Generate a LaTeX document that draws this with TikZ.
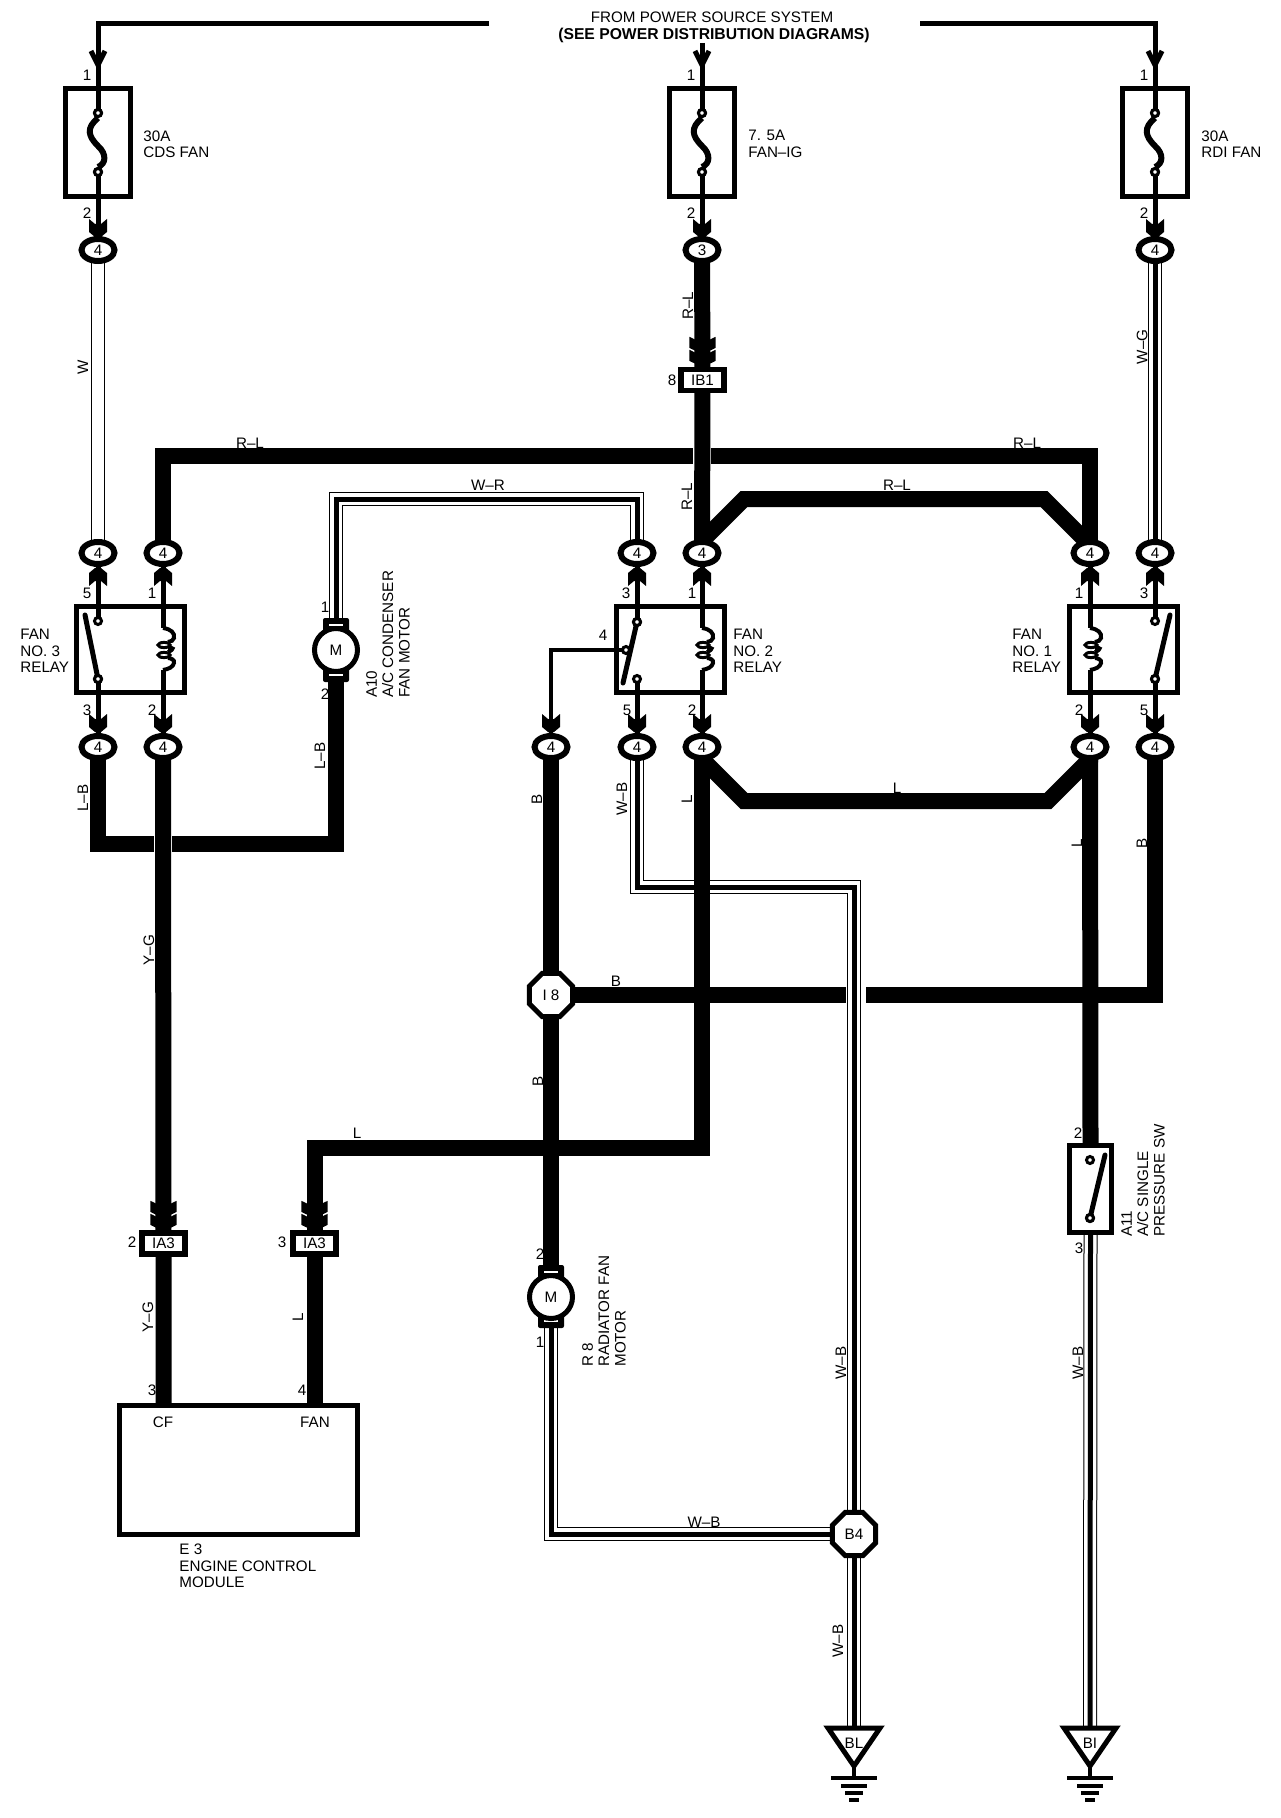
\documentclass[tikz,border=0pt]{standalone}
\usepackage{fontspec}
\setmainfont{Liberation Sans}
\usetikzlibrary{shapes.geometric}
\pgfdeclarelayer{background}
\pgfsetlayers{background,main}
\newcount\labn
\newcommand\lab[3][]{\global\advance\labn by 1 \node[lbl,#1] (lab\the\labn) at (#2) {#3};}
\tikzset{
  lbl/.style={inner sep=0pt,align=left,font=\fontsize{7.6}{8.2}\selectfont},
  boxn/.style={draw,line width=2.5pt,rectangle,inner sep=0pt},
  conn/.style={draw,fill=white,ellipse,line width=3pt,minimum width=16.5pt,minimum height=11pt,inner sep=0pt,font=\fontsize{7.6}{8}\selectfont},
  tag/.style={draw,fill=white,rectangle,line width=2.75pt,minimum width=21.5pt,minimum height=10.5pt,inner sep=0pt,font=\fontsize{7.6}{8}\selectfont},
  octa/.style={draw,fill=white,regular polygon,regular polygon sides=8,line width=2.5pt,minimum size=23.3pt,inner sep=0pt,font=\fontsize{7.6}{8}\selectfont},
  motor/.style={draw,fill=white,circle,line width=2.5pt,minimum size=21.5pt,inner sep=0pt,font=\fontsize{7.6}{8}\selectfont},
  term/.style={draw,fill=white,circle,line width=1.5pt,minimum size=3.5pt,inner sep=0pt},
  heavy/.style={line width=8pt,line join=miter},
  pinw/.style={line width=2.5pt},
  blade/.style={line width=2.5pt,line cap=round},
  hollow/.style={draw=black,line width=7pt,postaction={draw=white,line width=6pt}},
  triple/.style={draw=black,line width=7pt,postaction={draw=white,line width=6pt},postaction={draw=black,line width=2.5pt}},
  chev/.pic={\fill (0,0) -- (-3,-1) -- (-9,-6) -- (-9,-19) -- (-3,-14) -- (3,-14) -- (9,-19) -- (9,-6) -- (3,-1) -- cycle;},
  coil/.pic={
    \draw[line width=2pt] (0,0) .. controls (8,1) and (12,5) .. (11,10) .. controls (10.5,12) and (8,14) .. (5,14);
    \draw[line width=2pt] (5,20) .. controls (10,19) and (12,21) .. (5,24);
    \draw[line width=2pt] (5,30) .. controls (8,30) and (12,32) .. (11,35) .. controls (10,39) and (6,41) .. (0,42);
    \draw[line width=1.5pt,fill=white] (1,17) ellipse[x radius=6,y radius=2.6];
    \draw[line width=1.5pt,fill=white] (1,27) ellipse[x radius=6,y radius=2.6];
  },
  gndsym/.pic={
    \draw[line width=2.5pt,line join=miter] (-26,0) -- (26,0) -- (0,38) -- cycle;
    \draw[line width=2pt] (0,38) -- (0,50);
    \draw[line width=2pt] (-23,50) -- (23,50);
    \draw[line width=2pt] (-13,58) -- (13,58);
    \draw[line width=2pt] (-9,65) -- (9,65);
    \draw[line width=2pt] (-5,72) -- (5,72);
  },
}
\begin{document}
\begin{tikzpicture}[x=0.5pt,y=-0.5pt]
\useasboundingbox (0,0) rectangle (1280,1818);
% fuses
\node[boxn,minimum width=32.5pt,minimum height=54pt] (F1) at (98,142.5) {};
\node[boxn,minimum width=32.5pt,minimum height=54pt] (F2) at (702,142.5) {};
\node[boxn,minimum width=32.5pt,minimum height=54pt] (F3) at (1155,142.5) {};
% relays
\node[boxn,minimum width=54pt,minimum height=43pt] (R3) at (130.5,649.5) {};
\node[boxn,minimum width=54pt,minimum height=43pt] (R2) at (670,649.5) {};
\node[boxn,minimum width=54pt,minimum height=43pt] (R1) at (1123,649.5) {};
\node[boxn,minimum width=21pt,minimum height=43.5pt] (SW) at (1090.5,1189) {};
\node[boxn,minimum width=119pt,minimum height=64.5pt] (ECM) at (238.5,1470) {};
% connectors
\node[conn] (Ca) at (98,250) {4};
\node[conn] (Cb) at (702,250) {3};
\node[conn] (Cc) at (1155,250) {4};
\node[conn] (A1) at (98,553) {4};
\node[conn] (A2) at (163,553) {4};
\node[conn] (A3) at (637,553) {4};
\node[conn] (A4) at (702,553) {4};
\node[conn] (A5) at (1090,553) {4};
\node[conn] (A6) at (1155,553) {4};
\node[conn] (D1) at (98,747) {4};
\node[conn] (D2) at (163,747) {4};
\node[conn] (D3) at (551,747) {4};
\node[conn] (D4) at (637,747) {4};
\node[conn] (D5) at (702,747) {4};
\node[conn] (D6) at (1090,747) {4};
\node[conn] (D7) at (1155,747) {4};
\node[tag] (IB) at (702.5,380) {IB1};
\node[tag] (IAa) at (163.5,1243.5) {IA3};
\node[tag] (IAb) at (314.5,1243.5) {IA3};
\node[octa] (I8) at (551,995) {I 8};
\node[octa] (B4) at (854,1534) {B4};
\node[motor] (M10) at (336,650) {M};
\node[motor] (M8) at (551,1297) {M};
% terminals
\node[term] (T3a) at (98,621) {};
\node[term] (T3b) at (98,679) {};
\node[term] (T2a) at (637,622) {};
\node[term] (T2b) at (637,679) {};
\node[term] (T1a) at (1155,621) {};
\node[term] (T1b) at (1155,679) {};
\node[term] (Sa) at (1090,1160) {};
\node[term] (Sb) at (1090,1218) {};
\node[term] (T2c) at (626,650) {};
\node[term] (Fa1) at (98,113) {};
\node[term] (Fb1) at (98,172) {};
\node[term] (Fa2) at (702,113) {};
\node[term] (Fb2) at (702,172) {};
\node[term] (Fa3) at (1155,113) {};
\node[term] (Fb3) at (1155,172) {};
% free ends and corners
\coordinate (feedL) at (489,24);
\coordinate (feedM) at (702,43);
\coordinate (feedR) at (920,24);
\coordinate (cL) at (98,24);
\coordinate (cR) at (1155,24);
\coordinate (hR) at (702,456);
\coordinate (dR0) at (702,541);
\coordinate (dR1) at (744,499);
\coordinate (dR2) at (1044,499);
\coordinate (dR3) at (1090,545);
\coordinate (dL0) at (702,759);
\coordinate (dL1) at (744,801);
\coordinate (dL2) at (1048,801);
\coordinate (dL3) at (1090,759);
\coordinate (wr) at (336,499);
\coordinate (wb1) at (637,887);
\coordinate (wb2) at (854,887);
\coordinate (lb) at (336,844);
\coordinate (lc) at (702,1148);
\coordinate (ld) at (314.5,1148);
\coordinate (corn) at (1155,995);
\coordinate (rb) at (551,1534);
\coordinate (g1) at (854,1728);
\coordinate (g2) at (1090,1728);
\coordinate (ecmA) at (163.5,1405);
\coordinate (ecmB) at (314.5,1405);
\coordinate (c3a) at (163,628);
\coordinate (c3b) at (163,670);
\coordinate (c2a) at (702,628);
\coordinate (c2b) at (702,670);
\coordinate (c1a) at (1090,628);
\coordinate (c1b) at (1090,670);
\begin{pgfonlayer}{background}
  \fill[white] (0,0) rectangle (1280,1818);
  % feeds
  \draw[pinw] (feedL) -- (cL) -- (Fa1.center);
  \draw[pinw] (feedM) -- (Fa2.center);
  \draw[pinw] (feedR) -- (cR) -- (Fa3.center);
  \draw[line width=2.5pt] (91,51) -- (98,65) -- (105,51);
  \draw[line width=2.5pt] (695,51) -- (702,65) -- (709,51);
  \draw[line width=2.5pt] (1148,51) -- (1155,65) -- (1162,51);
  \draw[pinw] (Fb1.center) -- (Ca.center);
  \draw[pinw] (Fb2.center) -- (Cb.center);
  \draw[pinw] (Fb3.center) -- (Cc.center);
  % heavy horizontals with breaks
  \draw[heavy] (D7.center) -- (corn) -- (I8.center);
  \fill[white] (846,980) rectangle (866,1010);
  \draw[heavy] (A2.center) |- (hR) -| (A5.center);
  \fill[white] (693,444) rectangle (711,468);
  \draw[heavy] (D1.center) |- (lb) -- (M10.center);
  \fill[white] (154,832) rectangle (172,856);
  % pale and triple wires
  \draw[hollow] (Ca.center) -- (A1.center);
  \draw[triple] (Cc.center) -- (A6.center);
  \draw[triple] (A3.center) -- (637,499) -- (wr) -- (M10.center);
  \draw[triple] (D4.center) -- (wb1) -- (wb2) -- (B4.center);
  \draw[triple] (M8.center) -- (rb) -- (B4.center);
  \draw[triple] (B4.center) -- (g1);
  \draw[triple] (SW.south) -- (g2);
  % heavy wires
  \draw[heavy] (Cb.center) -- (IB.center) -- (A4.center);
  \draw[heavy] (A4.center) -- (dR0) -- (dR1) -- (dR2) -- (dR3) -- (A5.center);
  \draw[heavy] (D5.center) -- (dL0) -- (dL1) -- (dL2) -- (dL3) -- (D6.center);
  \draw[heavy] (D5.center) -- (lc) -- (ld) -- (IAb.center);
  \draw[heavy] (IAb.center) -- (ecmB);
  \draw[heavy] (D2.center) -- (IAa.center) -- (ecmA);
  \draw[heavy] (D3.center) -- (I8.center) -- (M8.center);
  \draw[heavy] (D6.center) -- (SW.north);
  % relay pins
  \draw[pinw] (A1.center) -- (T3a.center);
  \draw[pinw] (T3b.center) -- (D1.center);
  \draw[pinw] (A2.center) -- (c3a);
  \draw[pinw] (c3b) -- (D2.center);
  \draw[pinw] (A3.center) -- (T2a.center);
  \draw[pinw] (T2b.center) -- (D4.center);
  \draw[pinw] (A4.center) -- (c2a);
  \draw[pinw] (c2b) -- (D5.center);
  \draw[pinw] (A5.center) -- (c1a);
  \draw[pinw] (c1b) -- (D6.center);
  \draw[pinw] (A6.center) -- (T1a.center);
  \draw[pinw] (T1b.center) -- (D7.center);
  \draw[line width=1.8pt] (T2c.center) -| (D3.center);
  % arrowheads
  \foreach \x in {98,702,1155} {\pic at (\x,238) {chev};}
  \foreach \x in {98,163,637,702,1090,1155} {\pic[yscale=-1] at (\x,567) {chev};}
  \foreach \x in {98,163,551,637,702,1090,1155} {\pic at (\x,733) {chev};}
  \foreach \x/\y in {702.5/366,702.5/353,163.5/1230,163.5/1217,314.5/1230,314.5/1217} {\pic[xscale=1.45,yscale=0.85] at (\x,\y) {chev};}
  % motor end caps
  \fill[rounded corners=1pt] (323,618) rectangle (349,682);
  \fill[rounded corners=1pt] (538,1265) rectangle (564,1328);
  \draw[white,line width=0.75pt] (329,625) -- (343,625) (329,675) -- (343,675);
  \draw[white,line width=0.75pt] (544,1272) -- (558,1272) (544,1321) -- (558,1321);
\end{pgfonlayer}
% fuse links
\foreach \n/\x in {1/98,2/702,3/1155} {
  \draw[line width=3pt] (Fa\n.south) .. controls (\x-12,128) and (\x-10,136) .. (\x,146) .. controls (\x+9,154) and (\x+8,164) .. (Fb\n.north);
}
\node[term] at (Fa1) {}; \node[term] at (Fb1) {};
\node[term] at (Fa2) {}; \node[term] at (Fb2) {};
\node[term] at (Fa3) {}; \node[term] at (Fb3) {};
% coils
\pic at (c3a) {coil};
\pic at (c2a) {coil};
\pic at (c1a) {coil};
% switch blades
\draw[blade] (T3b.center) -- (85,615);
\draw[blade] (T2a.center) -- (623,683);
\draw[blade] (T1b.center) -- (1170,615);
\draw[blade] (Sb.center) -- (1105,1155);
\node[term] at (T3b) {}; \node[term] at (T2a) {}; \node[term] at (T1b) {}; \node[term] at (Sb) {};
% grounds
\pic at (g1) {gndsym};
\pic at (g2) {gndsym};
\lab{854,1743}{BL}
\lab{1090,1743}{BI}
% texts
\lab{712,17}{FROM POWER SOURCE SYSTEM}
\lab[font=\fontsize{7.85}{8.2}\selectfont\bfseries]{714,35.5}{(SEE POWER DISTRIBUTION DIAGRAMS)}
\lab[anchor=west]{143,144}{30A\\CDS FAN}
\lab[anchor=west]{748,144}{7. 5A\\FAN–IG}
\lab[anchor=west]{1201,144}{30A\\RDI FAN}
\foreach \x in {87,691,1144} {\lab{\x,75}{1} \lab{\x,213}{2}}
\lab[rotate=90]{83,367}{W}
\lab[rotate=90]{688,306}{R–L}
\lab[rotate=90]{1142,347}{W–G}
\lab{250,443}{R–L}
\lab{1027,443}{R–L}
\lab{488,485}{W–R}
\lab{897,485}{R–L}
\lab[rotate=90]{687,497}{R–L}
\lab{87,593}{5} \lab{152,593}{1} \lab{87,710}{3} \lab{152,710}{2}
\lab{626,593}{3} \lab{692,593}{1} \lab{603,635}{4} \lab{627,710}{5} \lab{692,710}{2}
\lab{1079,593}{1} \lab{1144,593}{3} \lab{1079,710}{2} \lab{1144,710}{5}
\lab[anchor=west]{20,651}{FAN\\NO. 3\\RELAY}
\lab[anchor=west]{733,651}{FAN\\NO. 2\\RELAY}
\lab[anchor=west]{1012,651}{FAN\\NO. 1\\RELAY}
\lab{325,607}{1} \lab{325,694}{2}
\lab[rotate=90,anchor=west]{388,698}{A10\\A/C CONDENSER\\FAN MOTOR}
\lab[rotate=90]{83,798}{L–B}
\lab[rotate=90]{320,756}{L–B}
\lab[rotate=90]{537,799}{B}
\lab[rotate=90]{622,799}{W–B}
\lab[rotate=90]{687,799}{L}
\lab{897,788}{L}
\lab[rotate=90]{1077,843}{L}
\lab[rotate=90]{1142,843}{B}
\lab{616,981}{B}
\lab[rotate=90]{149,950}{Y–G}
\lab[rotate=90]{538,1081}{B}
\lab{357,1133}{L}
\lab[rotate=90]{148,1317}{Y–G}
\lab[rotate=90]{298,1317}{L}
\lab{132,1242}{2} \lab{282,1242}{3} \lab{152,1390}{3} \lab{302,1390}{4}
\lab{163,1422}{CF} \lab{315,1422}{FAN}
\lab[anchor=west]{179,1566}{E 3\\ENGINE CONTROL\\MODULE}
\lab{672,380}{8}
\lab[rotate=90,anchor=west]{604,1367}{R 8\\RADIATOR FAN\\MOTOR}
\lab{540,1254}{2} \lab{540,1342}{1}
\lab{1078,1133}{2} \lab{1079,1248}{3}
\lab[rotate=90,anchor=west]{1143,1237}{A11\\A/C SINGLE\\PRESSURE SW}
\lab[rotate=90]{841,1363}{W–B}
\lab[rotate=90]{1078,1363}{W–B}
\lab{704,1522}{W–B}
\lab[rotate=90]{838,1641}{W–B}
\end{tikzpicture}
\end{document}
